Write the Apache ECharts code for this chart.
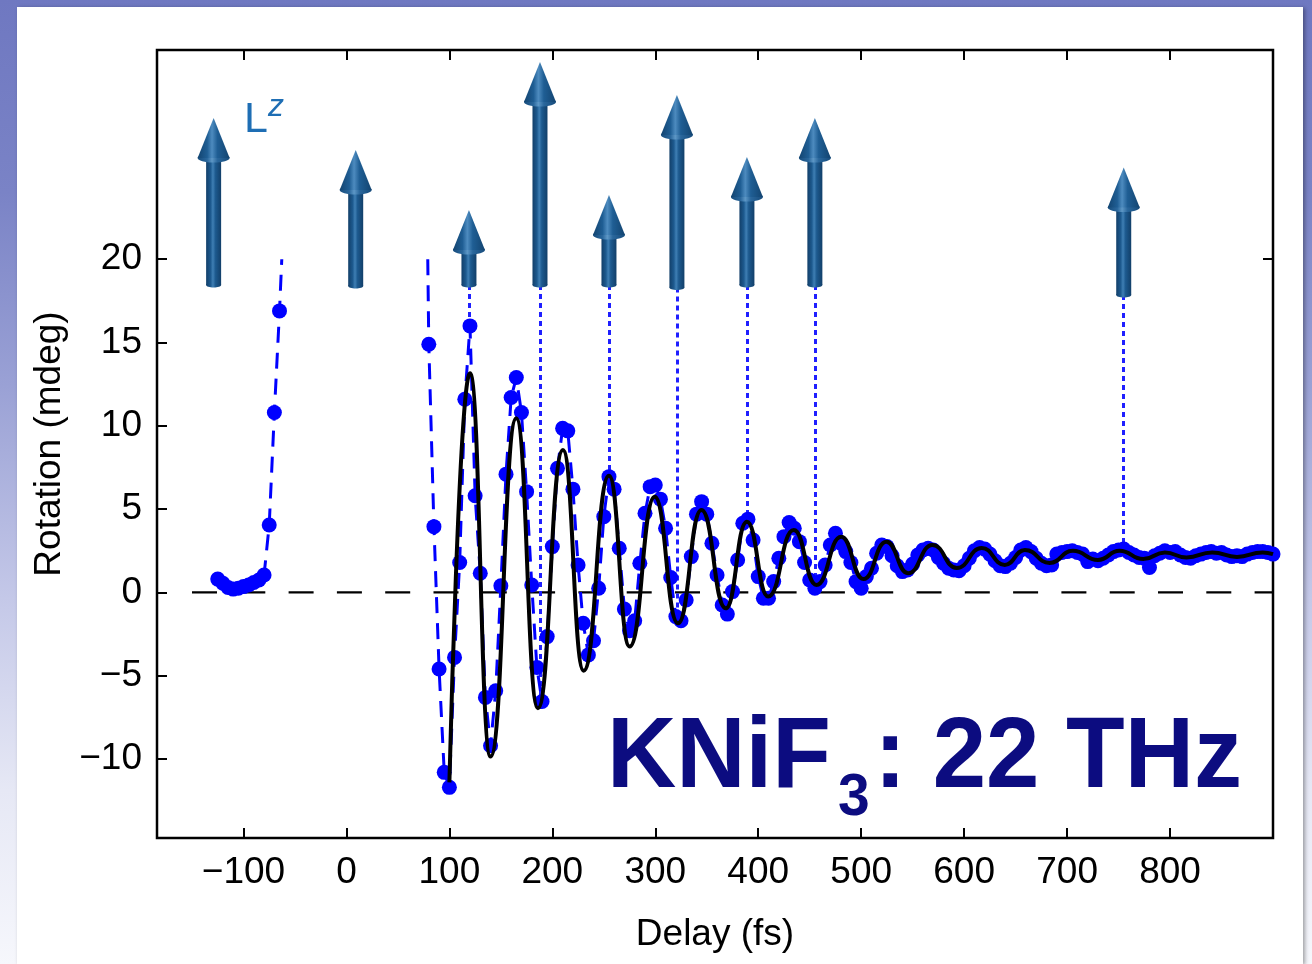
<!DOCTYPE html>
<html>
<head>
<meta charset="utf-8">
<title>KNiF3: 22 THz</title>
<script src="https://cdn.jsdelivr.net/npm/echarts@6.0.0/dist/echarts.min.js"></script>
<style>
  html, body { margin: 0; padding: 0; }
  body {
    width: 1312px; height: 964px; overflow: hidden; position: relative;
    background: linear-gradient(to bottom, #6f78c1 0%, #7a83c6 20%, #9aa1d5 40%, #c4c8e8 62%, #e6e8f5 82%, #f6f7fc 100%);
  }
  #panel {
    position: absolute; left: 17px; top: 7px; width: 1286px; height: 957px;
    background: #ffffff; box-shadow: 2px 1px 4px rgba(0, 0, 0, 0.35);
  }
  #chart { position: absolute; left: 0; top: 0; width: 1312px; height: 964px; }
</style>
</head>
<body>
<div id="panel"></div>
<div id="chart"></div>
<script>
// Axis ticks
const xTicks = [-100, 0, 100, 200, 300, 400, 500, 600, 700, 800];
const yTicks = [-10, -5, 0, 5, 10, 15, 20];

// Measured rotation before pump overlap (fs, mdeg)
const preTimes  = [-125, -120, -115, -110, -105, -100, -95, -90, -85, -80, -75, -70, -65];
const preValues = [0.8, 0.55, 0.3, 0.2, 0.25, 0.35, 0.45, 0.6, 0.75, 1.05, 4.05, 10.8, 16.9];

// Measured rotation after overlap (fs, mdeg)
const postTimes = [
  80, 85, 90, 95, 100, 105, 110, 115, 120, 125, 130, 135, 140, 145, 150, 155, 160, 165, 170, 175,
  180, 185, 190, 195, 200, 205, 210, 215, 220, 225, 230, 235, 240, 245, 250, 255, 260, 265, 270, 275,
  280, 285, 290, 295, 300, 305, 310, 315, 320, 325, 330, 335, 340, 345, 350, 355, 360, 365, 370, 375,
  380, 385, 390, 395, 400, 405, 410, 415, 420, 425, 430, 435, 440, 445, 450, 455, 460, 465, 470, 475,
  480, 485, 490, 495, 500, 505, 510, 515, 520, 525, 530, 535, 540, 545, 550, 555, 560, 565, 570, 575,
  580, 585, 590, 595, 600, 605, 610, 615, 620, 625, 630, 635, 640, 645, 650, 655, 660, 665, 670, 675,
  680, 685, 690, 695, 700, 705, 710, 715, 720, 725, 730, 735, 740, 745, 750, 755, 760, 765, 770, 775,
  780, 785, 790, 795, 800, 805, 810, 815, 820, 825, 830, 835, 840, 845, 850, 855, 860, 865, 870, 875,
  880, 885, 890, 895, 900
];
const postValues = [
  14.9, 3.95, -4.6, -10.8, -11.7, -3.9, 1.8, 11.6, 16.0, 5.8, 1.15, -6.3, -9.2, -5.9, 0.4, 7.1, 11.7, 12.9, 10.8, 6.05,
  0.45, -4.5, -6.55, -2.65, 2.75, 7.45, 9.85, 9.7, 6.2, 1.65, -1.85, -3.75, -2.9, 0.25, 4.55, 6.95, 6.2, 2.65, -1.0, -2.3,
  -1.7, 1.75, 4.75, 6.35, 6.45, 5.6, 3.85, 0.9, -1.45, -1.7, -0.45, 2.15, 4.7, 5.45, 4.7, 2.95, 1.05, -0.75, -1.3, 0.05,
  1.95, 4.15, 4.4, 3.15, 0.95, -0.35, -0.35, 0.65, 2.05, 3.35, 4.2, 3.85, 3.05, 1.8, 0.75, 0.25, 0.65, 1.65, 2.85, 3.55,
  2.95, 2.45, 1.8, 0.65, 0.25, 0.95, 1.45, 2.35, 2.85, 2.75, 2.2, 1.6, 1.25, 1.35, 1.7, 2.25, 2.55, 2.65, 2.55, 2.1,
  1.75, 1.45, 1.35, 1.3, 1.6, 2.05, 2.5, 2.7, 2.6, 2.3, 1.9, 1.6, 1.55, 1.75, 2.1, 2.55, 2.7, 2.45, 2.05, 1.75,
  1.6, 1.65, 2.3, 2.4, 2.45, 2.5, 2.4, 2.3, 1.85, 2.0, 1.9, 2.05, 2.25, 2.45, 2.55, 2.6, 2.4, 2.25, 2.1, 2.05,
  1.5, 2.2, 2.35, 2.5, 2.4, 2.45, 2.25, 2.1, 2.05, 2.2, 2.3, 2.4, 2.45, 2.35, 2.4, 2.25, 2.15, 2.2, 2.15, 2.3,
  2.4, 2.45, 2.45, 2.4, 2.3
];

// Where the dashed trace leaves / re-enters the 20 mdeg ceiling
const exitPoint  = [-62.8, 20];
const entryPoint = [79, 20];

// Damped-oscillator fit: extrema of the fitted curve (fs, mdeg)
const fitTimes = [
  100, 120, 140, 165, 186, 210.3, 230.4, 255, 275.1, 299.4, 322, 344.8, 368.4, 389, 409.6, 434.5,
  456.5, 480.6, 502.2, 524.5, 545.5, 569.2, 592.9, 617, 639.5, 659, 683, 705.6, 730, 751, 774, 795,
  816, 841, 865, 890, 900
];
const fitValues = [
  -11.4, 13.15, -9.85, 10.45, -6.95, 8.55, -4.7, 7.0, -3.25, 5.75, -1.85, 4.95, -0.95, 4.25, -0.25, 3.75,
  0.45, 3.35, 0.8, 3.05, 1.15, 2.85, 1.47, 2.67, 1.65, 2.55, 1.77, 2.5, 1.95, 2.5, 2.0, 2.4,
  2.1, 2.4, 2.13, 2.4, 2.3
];

// L^z vectors: time, foot and tip (mdeg units of the plot)
const arrowTimes = [-129, 9, 119, 188, 255, 321, 389, 455, 755];
const arrowFeet  = [18.45, 18.4, 18.45, 18.45, 18.45, 18.3, 18.45, 18.45, 17.85];
const arrowTips  = [28.48, 26.56, 22.96, 31.84, 23.86, 29.86, 26.14, 28.48, 25.5];
// Rotation value each vector is linked to (null = no link line)
const arrowLinks = [null, null, 16.0, -7.0, 6.95, -1.6, 4.4, 0.3, 2.5];

const zeroLine = [[-150, 0], [900, 0]];

const fmt = v => (v < 0 ? '\u2212' + Math.abs(v) : String(v));

const dashedTrace = []
  .concat(preTimes.map((t, i) => [t, preValues[i]]))
  .concat([exitPoint, ['-', '-'], entryPoint])
  .concat(postTimes.map((t, i) => [t, postValues[i]]));
const dots = preTimes.map((t, i) => [t, preValues[i]])
  .concat(postTimes.map((t, i) => [t, postValues[i]]));
const fit = fitTimes.map((t, i) => [t, fitValues[i]]);
const links = [];
arrowTimes.forEach((t, i) => {
  if (arrowLinks[i] !== null) links.push({ coords: [[t, arrowFeet[i]], [t, arrowLinks[i]]] });
});
const arrows = arrowTimes.map((t, i) => [t, arrowFeet[i], arrowTips[i]]);

const chart = echarts.init(document.getElementById('chart'), null, { renderer: 'canvas' });
const FONT = '"Liberation Sans", Arial, Helvetica, sans-serif';

function metal(dark, mid, light) {
  return new echarts.graphic.LinearGradient(0, 0, 1, 0, [
    { offset: 0, color: dark },
    { offset: 0.3, color: mid },
    { offset: 0.45, color: light },
    { offset: 0.62, color: mid },
    { offset: 1, color: dark }
  ]);
}

function renderArrow(params, api) {
  const x = api.value(0);
  const foot = api.coord([x, api.value(1)]);
  const tip = api.coord([x, api.value(2)]);
  const cx = foot[0];
  const headLen = 40, headHalf = 16, shaftHalf = 7.5;
  const neck = tip[1] + headLen;
  return {
    type: 'group',
    children: [
      { type: 'rect', shape: { x: cx - shaftHalf, y: neck, width: 2 * shaftHalf, height: foot[1] - neck },
        style: { fill: metal('#123f69', '#1d5a8f', '#3f7fb4') } },
      { type: 'ellipse', shape: { cx: cx, cy: foot[1], rx: shaftHalf, ry: 2.5 },
        style: { fill: metal('#123f69', '#1d5a8f', '#3f7fb4') } },
      { type: 'ellipse', shape: { cx: cx, cy: neck, rx: headHalf, ry: 4.5 },
        style: { fill: metal('#174c7c', '#2a679c', '#5d97c6') } },
      { type: 'polygon', shape: { points: [[cx, tip[1]], [cx - headHalf, neck], [cx + headHalf, neck]] },
        style: { fill: metal('#134470', '#1f5e94', '#4d8bbf') } }
    ]
  };
}

const tickCommon = { show: true, inside: true, length: 10, lineStyle: { color: '#000', width: 2 } };
const noLine = { show: false, onZero: false };

chart.setOption({
  backgroundColor: 'transparent',
  animation: false,
  grid: { left: 157, top: 50, right: 39, bottom: 126, show: true, borderColor: '#000', borderWidth: 2.5, backgroundColor: 'transparent' },
  xAxis: [
    {
      type: 'value', min: -184, max: 900, position: 'bottom',
      axisLine: noLine, splitLine: { show: false },
      axisTick: Object.assign({}, tickCommon, { customValues: xTicks }),
      axisLabel: { customValues: xTicks, formatter: fmt, color: '#000', fontFamily: FONT, fontSize: 37, margin: 16 },
      name: 'Delay (fs)', nameLocation: 'middle', nameGap: 78,
      nameTextStyle: { color: '#000', fontFamily: FONT, fontSize: 37 }
    },
    {
      type: 'value', min: -184, max: 900, position: 'top',
      axisLine: noLine, splitLine: { show: false },
      axisTick: Object.assign({}, tickCommon, { customValues: xTicks }),
      axisLabel: { show: false }
    }
  ],
  yAxis: [
    {
      type: 'value', min: -14.74, max: 32.56, position: 'left',
      axisLine: noLine, splitLine: { show: false },
      axisTick: Object.assign({}, tickCommon, { customValues: yTicks }),
      axisLabel: { customValues: yTicks, formatter: fmt, color: '#000', fontFamily: FONT, fontSize: 37, margin: 15 },
      name: 'Rotation (mdeg)', nameLocation: 'middle', nameGap: 86, nameRotate: 90,
      nameTextStyle: { color: '#000', fontFamily: FONT, fontSize: 37 }
    },
    {
      type: 'value', min: -14.74, max: 32.56, position: 'right',
      axisLine: noLine, splitLine: { show: false },
      axisTick: Object.assign({}, tickCommon, { customValues: [20] }),
      axisLabel: { show: false }
    }
  ],
  series: [
    {
      name: 'zero', type: 'line', data: zeroLine, symbol: 'none', silent: true, z: 1,
      lineStyle: { color: '#000', width: 2.2, type: [25, 23.3] }
    },
    {
      name: 'links', type: 'lines', coordinateSystem: 'cartesian2d', data: links, silent: true, z: 2,
      lineStyle: { color: '#1f1fff', width: 3, type: [5, 4], opacity: 1 }
    },
    {
      name: 'trace', type: 'line', data: dashedTrace, symbol: 'none', connectNulls: false, silent: true, z: 3,
      lineStyle: { color: '#0000ff', width: 3, type: [16, 10] }
    },
    {
      name: 'data', type: 'scatter', data: dots, symbol: 'circle', symbolSize: 15, silent: true, z: 4,
      itemStyle: { color: '#0000ff', opacity: 1 }
    },
    {
      name: 'fit', type: 'line', data: fit, symbol: 'none', smooth: 0.5, smoothMonotone: 'x', silent: true, z: 5,
      lineStyle: { color: '#000', width: 4 }
    },
    {
      name: 'Lz', type: 'custom', data: arrows, renderItem: renderArrow, silent: true, z: 6
    }
  ],
  graphic: [
    {
      type: 'group', silent: true, z: 100,
      children: [
        { type: 'text', x: 244, y: 120, style: { text: 'L', fill: '#1e6eb4', font: '43px ' + FONT, textVerticalAlign: 'middle' } },
        { type: 'text', x: 268, y: 107, style: { text: 'z', fill: '#1e6eb4', font: 'italic 32px ' + FONT, textVerticalAlign: 'middle' } }
      ]
    },
    {
      type: 'group', silent: true, z: 100,
      children: [
        { type: 'text', x: 607, y: 759, scaleX: 0.95, style: { text: 'KNiF', fill: '#0c0c80', font: 'bold 101px ' + FONT, textVerticalAlign: 'middle' } },
        { type: 'text', x: 838, y: 798, scaleX: 0.95, style: { text: '3', fill: '#0c0c80', font: 'bold 60px ' + FONT, textVerticalAlign: 'middle' } },
        { type: 'text', x: 1242, y: 759, scaleX: 0.95, style: { text: ': 22 THz', fill: '#0c0c80', font: 'bold 101px ' + FONT, textAlign: 'right', textVerticalAlign: 'middle' } }
      ]
    }
  ]
});
</script>
</body>
</html>
